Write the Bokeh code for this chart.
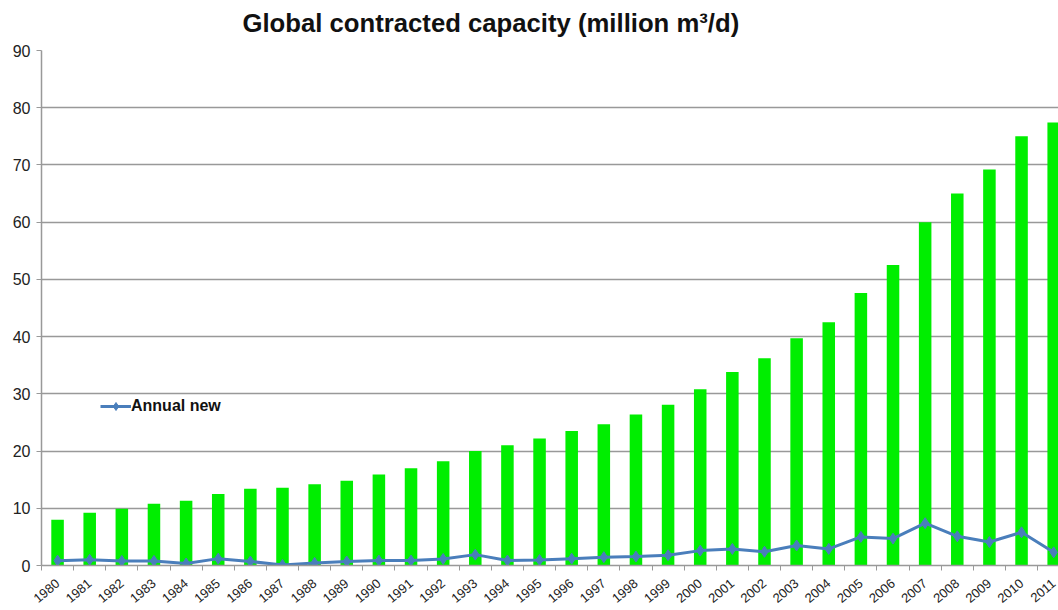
import math

from bokeh.plotting import figure
from bokeh.models import ColumnDataSource, FixedTicker, Legend, LegendItem, Range1d, Title
from bokeh.embed import file_html
from bokeh.resources import INLINE

# Global contracted desalination capacity, million m3/d
years = list(range(1980, 2012))
capacity = [8.0, 9.2, 9.9, 10.8, 11.3, 12.5, 13.4, 13.6, 14.2, 14.8,
            15.9, 17.0, 18.2, 20.0, 21.0, 22.2, 23.5, 24.7, 26.4, 28.1,
            30.8, 33.8, 36.2, 39.7, 42.5, 47.6, 52.5, 60.0, 65.0, 69.2,
            75.0, 77.4]
annual_new = [0.85, 1.0, 0.8, 0.8, 0.35, 1.2, 0.7, 0.1, 0.45, 0.7,
              0.87, 0.87, 1.15, 1.9, 0.87, 0.95, 1.2, 1.45, 1.56, 1.8,
              2.6, 2.9, 2.4, 3.5, 2.9, 5.0, 4.7, 7.4, 5.1, 4.1,
              5.8, 2.3]
y_ticks = [0, 10, 20, 30, 40, 50, 60, 70, 80, 90]

src = ColumnDataSource(dict(year=years, capacity=capacity, annual_new=annual_new))

GRID = "#999999"
BLUE = "#4a7ebb"
GREEN = "#00ee00"

p = figure(width=1058, height=610,
           x_range=Range1d(1979.5, 2011.15), y_range=Range1d(0, 90),
           output_backend="svg", toolbar_location=None,
           min_border_left=41, min_border_right=0,
           min_border_top=50, min_border_bottom=45)
p.outline_line_color = None
p.background_fill_color = "white"

# a thin blank strip keeps the heading clear of the top gridline
p.add_layout(Title(text=" ", text_font_size="8px", standoff=0), "above")
p.add_layout(Title(text="Global contracted capacity (million m³/d)",
                   align="left", offset=201, vertical_align="top", standoff=2,
                   text_font="Liberation Sans", text_font_style="bold",
                   text_font_size="25.7px", text_color="#111111"), "above")

p.vbar(x="year", top="capacity", width=0.39, source=src,
       fill_color=GREEN, line_color=None)

r_line = p.line(x="year", y="annual_new", source=src,
                line_color=BLUE, line_width=3)
r_pts = p.scatter(x="year", y="annual_new", source=src, marker="diamond",
                  size=11, fill_color=BLUE, line_color=BLUE)

# x axis: year labels at category centres, ticks between categories
p.xaxis.ticker = FixedTicker(ticks=years,
                             minor_ticks=[y - 0.5 for y in years] + [years[-1] + 0.5])
p.xaxis.major_tick_out = 0
p.xaxis.major_tick_in = 0
p.xaxis.minor_tick_out = 5
p.xaxis.minor_tick_in = 0
p.xaxis.minor_tick_line_color = GRID
p.xaxis.axis_line_color = GRID
p.xaxis.axis_line_width = 1.5
p.xaxis.major_label_orientation = 0.7
p.xaxis.major_label_text_font = "Liberation Sans"
p.xaxis.major_label_text_font_size = "13px"
p.xaxis.major_label_text_color = "#222222"
p.xaxis.major_label_standoff = 11
p.xgrid.grid_line_color = None

# y axis
p.yaxis.ticker = FixedTicker(ticks=y_ticks)
p.yaxis.major_tick_out = 5
p.yaxis.major_tick_in = 0
p.yaxis.minor_tick_line_color = None
p.yaxis.major_tick_line_color = GRID
p.yaxis.axis_line_color = GRID
p.yaxis.axis_line_width = 1.5
p.yaxis.major_label_text_font = "Liberation Sans"
p.yaxis.major_label_text_font_size = "16px"
p.yaxis.major_label_text_color = "#222222"
p.yaxis.major_label_standoff = 6
p.ygrid.grid_line_color = GRID
p.ygrid.grid_line_width = 1.5

legend = Legend(items=[LegendItem(label="Annual new", renderers=[r_line, r_pts])],
                location=(59, 149), orientation="vertical",
                background_fill_color="white", background_fill_alpha=1.0,
                border_line_color=None, padding=7, margin=0, spacing=0,
                glyph_width=31, glyph_height=20, label_standoff=0,
                label_text_font="Liberation Sans", label_text_font_style="bold",
                label_text_font_size="16px", label_text_color="#111111")
p.add_layout(legend)

open("out.html", "w").write(file_html(p, INLINE))
